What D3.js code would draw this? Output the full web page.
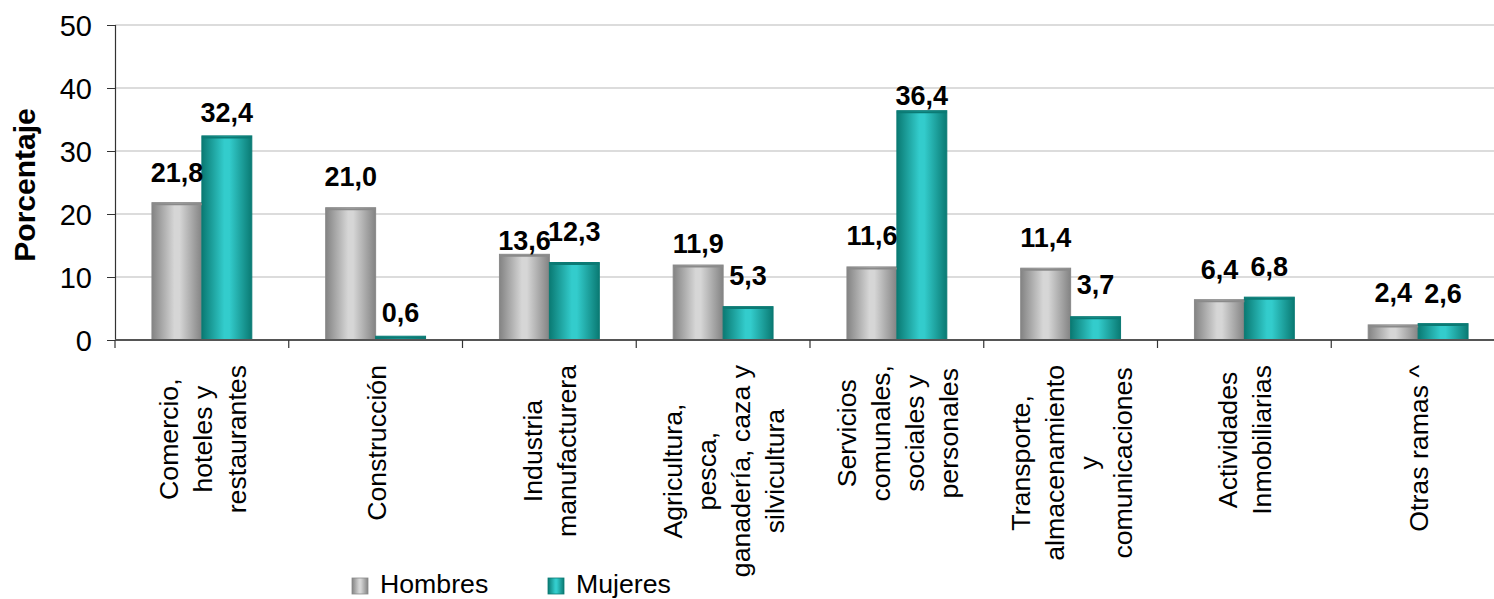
<!DOCTYPE html>
<html>
<head>
<meta charset="utf-8">
<script src="https://cdn.jsdelivr.net/npm/d3@7"></script>
<style>
  html, body { margin: 0; padding: 0; background: #fff; }
  svg { display: block; }
  text { font-family: "Liberation Sans", Arial, sans-serif; fill: #000; }
</style>
</head>
<body>
<svg id="chart" width="1494" height="599"></svg>
<script>
// ---- data ----
const categories = [
  ["Comercio,", "hoteles y", "restaurantes"],
  ["Construcción"],
  ["Industria", "manufacturera"],
  ["Agricultura,", "pesca,", "ganadería, caza y", "silvicultura"],
  ["Servicios", "comunales,", "sociales y", "personales"],
  ["Transporte,", "almacenamiento", "y", "comunicaciones"],
  ["Actividades", "Inmobiliarias"],
  ["Otras ramas ^"]
];
const seriesNames = ["Hombres", "Mujeres"];
const hombres = [21.8, 21.0, 13.6, 11.9, 11.6, 11.4, 6.4, 2.4];
const mujeres = [32.4, 0.6, 12.3, 5.3, 36.4, 3.7, 6.8, 2.6];
const yTicks = [0, 10, 20, 30, 40, 50];
const yTitle = "Porcentaje";

(function () {
// ---- layout ----
const svg = d3.select("#chart");
const mLeft = 115, mRight = 1505, mTop = 25, mBottom = 340;
const fontSize = 26.7;

const catIdx = d3.range(categories.length);
const x0 = d3.scaleBand().domain(catIdx).range([mLeft, mRight]).padding(0);
const x1 = d3.scaleBand().domain(seriesNames).range([0, x0.bandwidth()]).paddingInner(0).paddingOuter(0.74);
const y = d3.scaleLinear().domain([0, 50]).range([mBottom, mTop]);

// label lift above bar tops (px), as placed in the original chart
const labelLift = {
  Hombres: [21, 22, 4, 12, 22, 21, 21, 23],
  Mujeres: [14, 14, 22, 22, 6, 23, 21, 21]
};

const defs = svg.append("defs");
function grad(id, edge, mid) {
  const g = defs.append("linearGradient").attr("id", id)
    .attr("x1", "0%").attr("x2", "100%").attr("y1", "0%").attr("y2", "0%");
  g.append("stop").attr("offset", "0%").attr("stop-color", edge);
  g.append("stop").attr("offset", "45%").attr("stop-color", mid);
  g.append("stop").attr("offset", "55%").attr("stop-color", mid);
  g.append("stop").attr("offset", "100%").attr("stop-color", edge);
}
grad("gGrey", "#838383", "#d6d6d6");
grad("gTeal", "#0a7a73", "#33cccc");
const fills = { Hombres: "url(#gGrey)", Mujeres: "url(#gTeal)" };
const strokes = { Hombres: "#8a8a8a", Mujeres: "#0b7a74" };

// gridlines
svg.append("g").selectAll("line").data(yTicks.filter(d => d > 0)).join("line")
  .attr("x1", mLeft).attr("x2", 1494)
  .attr("y1", d => y(d)).attr("y2", d => y(d))
  .attr("stroke", "#d0d0d0").attr("stroke-width", 1.5);

// y axis
const yAxis = svg.append("g").attr("transform", `translate(${mLeft},0)`)
  .call(d3.axisLeft(y).tickValues(yTicks).tickSize(8).tickPadding(15).tickFormat(d3.format("d")));
yAxis.select(".domain").attr("stroke", "#333").attr("stroke-width", 1.2);
yAxis.selectAll(".tick line").attr("stroke", "#333");
yAxis.selectAll(".tick text")
  .style("font-family", '"Liberation Sans", Arial, sans-serif')
  .style("font-size", "29px").attr("fill", "#000").attr("dy", "0.36em");

// y title
svg.append("text")
  .attr("transform", `translate(35,185) rotate(-90)`)
  .attr("text-anchor", "middle")
  .style("font-size", "30px").style("font-weight", "bold")
  .text(yTitle);

// bars
const rows = catIdx.map(i => ({ i, vals: [
  { key: "Hombres", v: hombres[i], i }, { key: "Mujeres", v: mujeres[i], i } ] }));
const grp = svg.append("g").selectAll("g").data(rows).join("g")
  .attr("transform", d => `translate(${x0(d.i)},0)`);
grp.selectAll("rect").data(d => d.vals).join("rect")
  .attr("x", d => x1(d.key)).attr("width", x1.bandwidth())
  .attr("y", d => y(d.v)).attr("height", d => y(0) - y(d.v))
  .attr("fill", d => fills[d.key])
  .attr("stroke", d => strokes[d.key]).attr("stroke-width", 1);
grp.selectAll("line.cap").data(d => d.vals).join("line").attr("class", "cap")
  .attr("x1", d => x1(d.key)).attr("x2", d => x1(d.key) + x1.bandwidth())
  .attr("y1", d => y(d.v) + 1.5).attr("y2", d => y(d.v) + 1.5)
  .attr("stroke", d => strokes[d.key]).attr("stroke-width", 2);

// value labels
grp.selectAll("text.val").data(d => d.vals).join("text")
  .attr("class", "val")
  .attr("x", d => x1(d.key) + x1.bandwidth() / 2)
  .attr("y", d => y(d.v) - labelLift[d.key][d.i])
  .attr("text-anchor", "middle")
  .style("font-size", "27px").style("font-weight", "bold")
  .text(d => d3.format(".1f")(d.v).replace(".", ","));

// x axis
const xAxisG = svg.append("g");
xAxisG.append("line").attr("x1", mLeft).attr("x2", 1494)
  .attr("y1", mBottom).attr("y2", mBottom).attr("stroke", "#555").attr("stroke-width", 2);
xAxisG.selectAll("line.tk").data(catIdx).join("line").attr("class", "tk")
  .attr("x1", d => x0(d)).attr("x2", d => x0(d))
  .attr("y1", mBottom).attr("y2", mBottom + 8).attr("stroke", "#333").attr("stroke-width", 1.2);

// category labels (rotated, lines centered)
const lh = 34, labTop = 365;
const labG = svg.append("g");
catIdx.forEach(i => {
  const lines = categories[i];
  const cx = x0(i) + x0.bandwidth() / 2;
  const t = labG.append("text").attr("text-anchor", "middle")
    .style("font-size", fontSize + "px");
  lines.forEach(s => t.append("tspan").text(s));
  const maxLen = d3.max(t.selectAll("tspan").nodes(), n => n.getComputedTextLength());
  const cy = labTop + maxLen / 2;
  t.selectAll("tspan")
    .attr("x", 0)
    .attr("y", (d, k) => (k - (lines.length - 1) / 2) * lh + 10);
  t.attr("transform", `translate(${cx},${cy}) rotate(-90)`);
});

// legend
const legend = svg.append("g");
const legendItems = [
  { key: "Hombres", x: 352 },
  { key: "Mujeres", x: 548 }
];
legend.selectAll("rect").data(legendItems).join("rect")
  .attr("x", d => d.x).attr("y", 578).attr("width", 16).attr("height", 16)
  .attr("fill", d => fills[d.key]).attr("stroke", d => strokes[d.key]).attr("stroke-width", 0.8);
legend.selectAll("text").data(legendItems).join("text")
  .attr("x", d => d.x + 28).attr("y", 593)
  .style("font-size", fontSize + "px")
  .text(d => d.key);
})();
</script>
</body>
</html>
